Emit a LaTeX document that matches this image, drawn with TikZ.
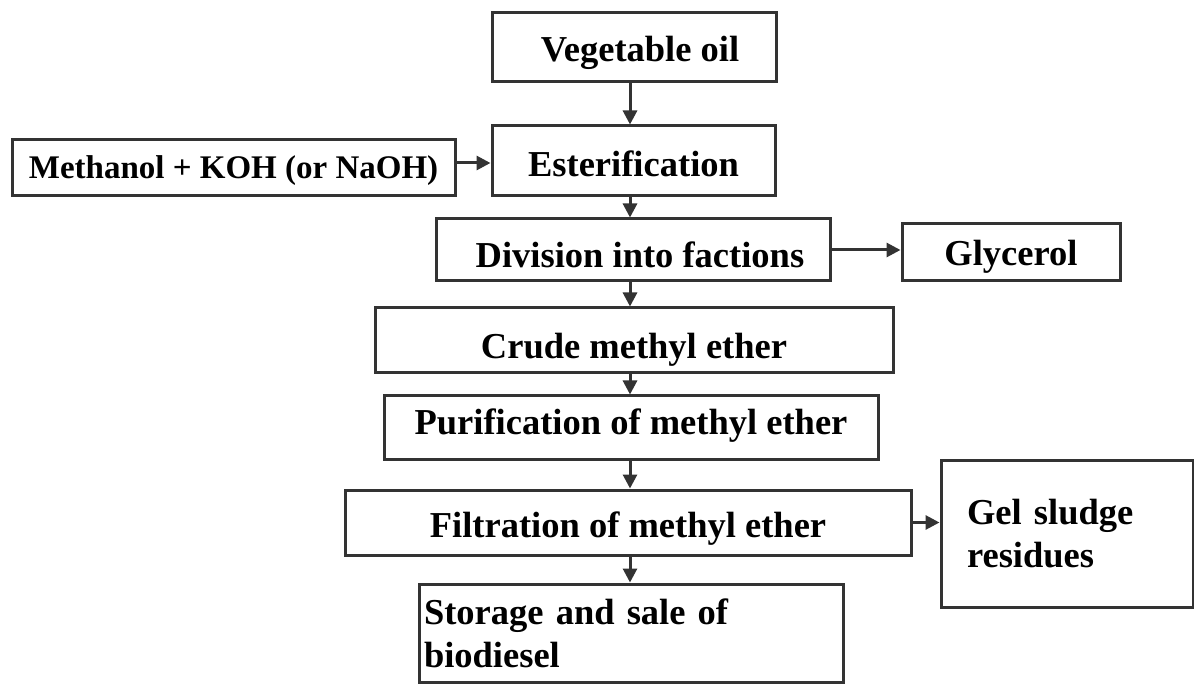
\documentclass[tikz,border=0pt]{standalone}
\usepackage{fontspec}
\setmainfont{Liberation Serif}
\usetikzlibrary{arrows.meta}
\definecolor{edge}{HTML}{333333}
\tikzset{
  box/.style={draw=edge, line width=3pt, rectangle, inner sep=0pt, align=center,
    font=\bfseries\fontsize{36.5}{43}\selectfont},
  oneline/.style={box, text depth=0pt},
  flow/.style={draw=edge, line width=3pt, -{Triangle[length=14pt,width=14pt]}}
}
\begin{document}
\begin{tikzpicture}[x=1pt,y=-1pt]
\useasboundingbox (0,0) rectangle (1194,684);
\coordinate (spine) at (630,0);
\node[oneline, minimum width=284pt, minimum height=69pt, text height=29pt] (veg) at (634,47.5) {\hspace{12pt}Vegetable oil};
\node[oneline, minimum width=283pt, minimum height=70pt, text height=32pt] (ester) at (633.5,161) {Esterification};
\node[oneline, minimum width=443pt, minimum height=56pt, text height=22pt, font=\bfseries\fontsize{33}{40}\selectfont] (meth) at (233.5,168) {Methanol + KOH (or NaOH)};
\node[oneline, minimum width=394pt, minimum height=62pt, text height=36pt] (div) at (633,250) {\hspace{14pt}Division into factions};
\node[oneline, minimum width=218pt, minimum height=57pt, text height=27pt] (gly) at (1011,252.5) {Glycerol};
\node[oneline, minimum width=518pt, minimum height=65pt, text height=37pt] (crude) at (634,340.5) {Crude methyl ether};
\node[oneline, minimum width=494pt, minimum height=63pt, text height=13pt] (pur) at (631,427.5) {Purification of methyl ether};
\node[oneline, minimum width=566pt, minimum height=65pt, text height=29pt] (filt) at (628,522.5) {Filtration of methyl ether};
\node[box, minimum width=252pt, minimum height=147pt, text width=200pt, align=left] (gel) at (1067,533.5) {Gel sludge\\residues};
\node[box, minimum width=424pt, minimum height=98pt, text width=414pt, align=left] (stor) at (631,633) {Storage and sale of\\biodiesel};
\draw[flow] (veg.south -| spine) -- (ester.north -| spine);
\draw[flow] (ester.south -| spine) -- (div.north -| spine);
\draw[flow] (div.south -| spine) -- (crude.north -| spine);
\draw[flow] (crude.south -| spine) -- (pur.north -| spine);
\draw[flow] (pur.south -| spine) -- (filt.north -| spine);
\draw[flow] (filt.south -| spine) -- (stor.north -| spine);
\draw[flow] ([yshift=5pt]meth.east) -- ([yshift=5pt]meth.east -| ester.west);
\draw[flow] (div.east) -- (div.east -| gly.west);
\draw[flow] (filt.east) -- (filt.east -| gel.west);
\end{tikzpicture}
\end{document}
